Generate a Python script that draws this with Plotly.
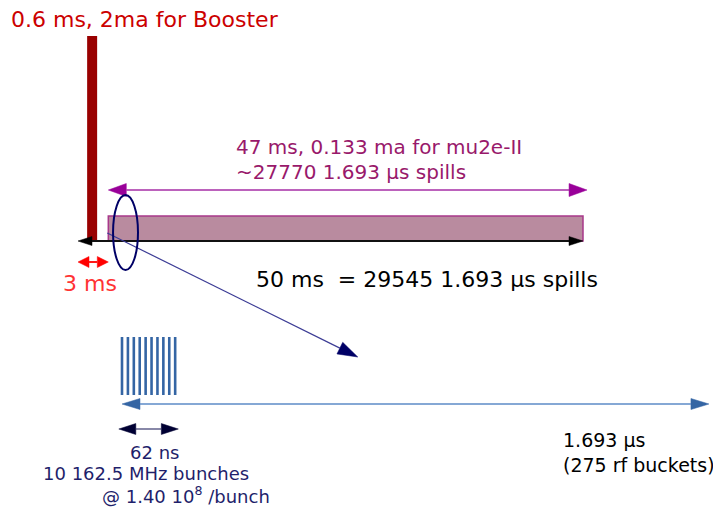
import math
import plotly.graph_objects as go

# ---------------- data ----------------
cycle_ms = [50]                       # full cycle length
phase_names = ["Booster", "gap", "mu2e-II"]
phase_ms = [0.6, 3, 47]               # booster pulse, gap, mu2e-II spill time
phase_ma = [2, None, 0.133]           # average current
spill_us = [1.693]                    # one delivery-ring spill period
spill_counts = [29545, 27770]         # spills in 50 ms, spills for mu2e-II
rf_buckets = [275]
bunch_count = [10]
bunch_freq_mhz = [162.5]
bunch_train_ns = [62]
protons_per_bunch = [1.40e8]

# ---------------- layout / scales ----------------
PAGE_W, PAGE_H = 721, 508
OFF = 8                                # default page body margin
W, H = PAGE_W - OFF, PAGE_H - OFF
# page pixel = a + b * value  for each horizontal scale
XMAP = {"x": (78.0, 10.1),      # milliseconds (cycle view)
        "x2": (122.0, 0.96),    # nanoseconds (bunch train)
        "x3": (122.0, 346.7)}   # microseconds (one spill)
FONT = "DejaVu Sans"


def to_px(ax, v):
    a, b = XMAP[ax]
    return a + b * v


def from_px(ax, p):
    a, b = XMAP[ax]
    return (p - a) / b


fig = go.Figure()


def add_line(ax, xs, ys, color, width):
    fig.add_trace(go.Scatter(x=xs, y=ys, mode="lines", xaxis=ax, yaxis="y",
                             line=dict(color=color, width=width),
                             hoverinfo="skip", showlegend=False))


def add_head(ax, xtip, ytip, xfrom, yfrom, color, hl, hw):
    px_t, px_f = to_px(ax, xtip), to_px(ax, xfrom)
    dx, dy = px_t - px_f, ytip - yfrom
    L = math.hypot(dx, dy)
    ux, uy = dx / L, dy / L
    nx, ny = -uy, ux
    bx, by = px_t - hl * ux, ytip - hl * uy
    pts = [(px_t, ytip), (bx + nx * hw / 2, by + ny * hw / 2),
           (bx - nx * hw / 2, by - ny * hw / 2), (px_t, ytip)]
    fig.add_trace(go.Scatter(x=[from_px(ax, p[0]) for p in pts], y=[p[1] for p in pts],
                             mode="lines", fill="toself", fillcolor=color,
                             line=dict(color=color, width=0.5), xaxis=ax, yaxis="y",
                             hoverinfo="skip", showlegend=False))
    return bx, by


def arrow(ax, x0, y0, x1, y1, color, width, head_color, hl=16, hw=12, both=False):
    """arrow from (x0,y0) to (x1,y1); x in axis units, y in layout units"""
    bx1, by1 = add_head(ax, x1, y1, x0, y0, head_color, hl, hw)
    sx, sy = to_px(ax, x0), y0
    if both:
        sx, sy = add_head(ax, x0, y0, x1, y1, head_color, hl, hw)
    add_line(ax, [from_px(ax, sx), from_px(ax, bx1)], [sy, by1], color, width)


# vertical placement of the schematic rows
Y_TIMELINE = 241
Y_BAR_TOP = 36
Y_SPILL_TOP = 216
Y_SPILL_ARROW = 190
Y_GAP_ARROW = 262
Y_BUNCH = (337, 395)
Y_SPILL_DETAIL = 404
Y_TRAIN_ARROW = 429

gap_start = 0
spill_start = phase_ms[1]
spill_end = phase_ms[1] + phase_ms[2]

shapes = []
# mu2e-II spill block
shapes.append(dict(type="rect", xref="x", yref="y", x0=spill_start, x1=spill_end,
                   y0=Y_SPILL_TOP, y1=Y_TIMELINE, fillcolor="#b98b9f",
                   line=dict(color="#a8388a", width=1.5), layer="below"))

# booster pulse (drawn schematically)
add_line("x", [1.4, 1.4], [Y_TIMELINE, Y_BAR_TOP], "#990000", 10)

# cycle timeline (double arrow)
arrow("x", 0, Y_TIMELINE, cycle_ms[0], Y_TIMELINE, "#111111", 2, "#000000",
      hl=14, hw=9, both=True)
# mu2e-II arrow
arrow("x", spill_start, Y_SPILL_ARROW, spill_end + 0.4, Y_SPILL_ARROW, "#a62ea6", 1.5,
      "#990099", hl=18, hw=13, both=True)
# 3 ms gap arrow
arrow("x", gap_start, Y_GAP_ARROW, phase_ms[1], Y_GAP_ARROW, "#ff1a1a", 2, "#ff0000",
      hl=11, hw=11, both=True)

# zoom callout ellipse + diagonal arrow
shapes.append(dict(type="circle", xref="x", yref="y", x0=3.47, x1=5.94, y0=195, y1=270,
                   line=dict(color="#000066", width=2), layer="above"))
arrow("x", 2.9, 233, 27.7, 357, "#3c3c95", 1.2, "#000066", hl=20, hw=13)

# bunch train (x2 in ns)
spacing_ns = 1000.0 / bunch_freq_mhz[0]
bx, by = [], []
for k in range(bunch_count[0]):
    bx += [k * spacing_ns, k * spacing_ns, None]
    by += [Y_BUNCH[0], Y_BUNCH[1], None]
add_line("x2", bx, by, "#3465a4", 2.6)

train_mid = (bunch_count[0] - 1) * spacing_ns / 2
arrow("x2", train_mid - bunch_train_ns[0] / 2, Y_TRAIN_ARROW,
      train_mid + bunch_train_ns[0] / 2, Y_TRAIN_ARROW, "#3a3a6e", 1.2, "#000033",
      hl=17, hw=11, both=True)

# one spill period (x3 in microseconds)
arrow("x3", 0, Y_SPILL_DETAIL, spill_us[0], Y_SPILL_DETAIL, "#5c8bc7", 1.5, "#3465a4",
      hl=18, hw=11, both=True)


# ---------------- text ----------------
def label(text, xpx, y, size, color, anchor="left"):
    fig.add_annotation(text=text, x=(xpx - OFF) / W, xref="paper", y=y, yref="y",
                       xanchor=anchor, yanchor="middle", showarrow=False,
                       font=dict(family=FONT, size=size, color=color))


label(f"{phase_ms[0]} ms, {phase_ma[0]}ma for {phase_names[0]}", 9, 19, 22, "#cc0000")
label(f"{phase_ms[2]} ms, {phase_ma[2]} ma for {phase_names[2]}", 234, 147, 20, "#99196b")
label(f"~{spill_counts[1]} {spill_us[0]} µs spills", 234, 172, 20, "#99196b")
label(f"{cycle_ms[0]} ms\u00a0 = {spill_counts[0]} {spill_us[0]} µs spills", 254, 279, 22, "#000000")
label(f"{phase_ms[1]} ms", 90, 283, 22, "#ff3333", anchor="center")
label(f"{bunch_train_ns[0]} ns", 154, 452, 18, "#1f1f6b", anchor="center")
label(f"{bunch_count[0]} {bunch_freq_mhz[0]} MHz bunches", 146, 473, 18, "#1f1f6b", anchor="center")
exp = int(math.floor(math.log10(protons_per_bunch[0])))
label(f"@ {protons_per_bunch[0] / 10**exp:.2f} 10<sup>{exp}</sup> /bunch", 100, 495, 18, "#1f1f6b")
label(f"{spill_us[0]} µs", 561, 440, 19, "#000000")
label(f"({rf_buckets[0]} rf buckets)", 561, 465, 19, "#000000")

axis_common = dict(visible=False, showgrid=False, zeroline=False, fixedrange=True)
fig.update_layout(
    width=W, height=H, autosize=False,
    margin=dict(l=0, r=0, t=0, b=0),
    paper_bgcolor="white", plot_bgcolor="white",
    showlegend=False, shapes=shapes,
    xaxis=dict(range=[from_px("x", OFF), from_px("x", PAGE_W)], **axis_common),
    xaxis2=dict(range=[from_px("x2", OFF), from_px("x2", PAGE_W)], overlaying="x", anchor="y", **axis_common),
    xaxis3=dict(range=[from_px("x3", OFF), from_px("x3", PAGE_W)], overlaying="x", anchor="y", **axis_common),
    yaxis=dict(range=[PAGE_H, OFF], **axis_common),
)

fig.write_html("out.html")
